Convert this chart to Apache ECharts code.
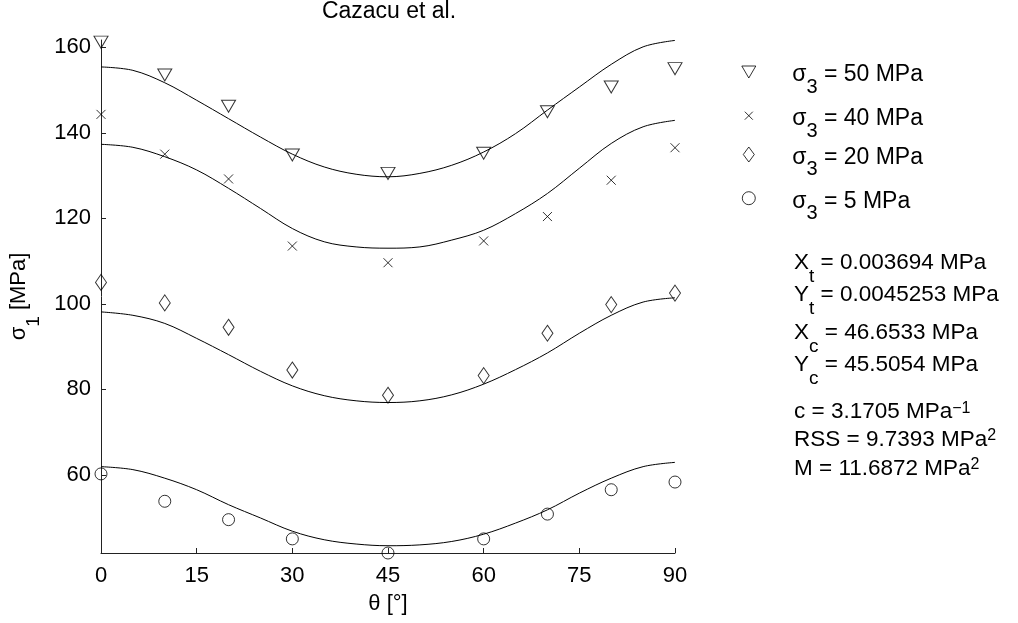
<!DOCTYPE html>
<html>
<head>
<meta charset="utf-8">
<script src="https://cdn.jsdelivr.net/npm/echarts@6/dist/echarts.min.js"></script>
<style>
  html, body { margin: 0; padding: 0; background: #fff; }
  #chart { width: 1018px; height: 623px; }
</style>
</head>
<body>
<div id="chart"></div>
<script>
// Measured orientations (degrees) and peak stresses sigma_1 (MPa)
const theta = [0, 10, 20, 30, 45, 60, 70, 80, 90];
const sigma3Levels = [50, 40, 20, 5];
const s50 = [161.2, 153.5, 146.2, 134.8, 130.5, 135.2, 144.9, 150.7, 155.0];
const s40 = [144.3, 135.0, 129.2, 113.5, 109.6, 114.7, 120.4, 128.9, 136.5];
const s20 = [105.0, 100.2, 94.5, 84.5, 78.6, 83.2, 93.1, 99.8, 102.5];
const s5  = [60.2, 53.8, 49.5, 45.0, 41.7, 45.0, 50.8, 56.5, 58.3];

// Fitted Cazacu criterion curves, sampled every 5 degrees
const thetaFit = [0, 5, 10, 15, 20, 25, 30, 35, 40, 45, 50, 55, 60, 65, 70, 75, 80, 85, 90];
const fit50 = [155.4, 154.6, 151.7, 147.6, 143.3, 139.0, 135.0, 132.0, 130.3, 129.7, 130.5, 132.4, 135.5, 139.8, 145.3, 150.7, 156.0, 160.1, 161.6];
const fit40 = [137.3, 136.6, 134.4, 131.3, 127.0, 122.3, 117.6, 114.5, 113.3, 113.0, 113.3, 114.9, 117.2, 121.1, 125.8, 131.7, 137.5, 141.4, 142.9];
const fit20 = [98.1, 97.3, 95.4, 91.9, 88.1, 84.2, 80.8, 78.5, 77.3, 76.9, 77.3, 78.7, 81.2, 84.6, 88.5, 93.1, 97.3, 100.4, 101.4];
const fit5  = [61.9, 61.2, 59.2, 56.5, 53.0, 49.9, 46.8, 44.8, 43.8, 43.4, 43.6, 44.4, 46.1, 48.7, 51.8, 55.7, 59.2, 61.9, 62.9];

// Axis ticks
const yTicks = [60, 80, 100, 120, 140, 160];
const xTickStep = 15;

// Fitted parameters shown beside the plot
const fitNotes = [
  '{s|X}{sub|t}{s| = 0.003694 MPa}',
  '{s|Y}{sub|t}{s| = 0.0045253 MPa}',
  '{s|X}{sub|c}{s| = 46.6533 MPa}',
  '{s|Y}{sub|c}{s| = 45.5054 MPa}',
  '{s|c = 3.1705 MPa}{sup|\u22121}',
  '{s|RSS = 9.7393 MPa}{sup|2}',
  '{s|M = 11.6872 MPa}{sup|2}'
];

const FONT = "'Liberation Sans', Arial, Helvetica, sans-serif";
const FS = 22;       // tick labels, axis names
const FS_NOTE = 22.5; // parameter block
const FS_KEY = 23;    // legend and title

const pairs = (xs, ys) => xs.map((x, i) => [x, ys[i]]);
const seriesName = v => 'σ3 = ' + v + ' MPa';

function richFor(size) {
  return {
    s:   { fontFamily: FONT, fontSize: size, lineHeight: 24, color: '#000', verticalAlign: 'top' },
    sub: { fontFamily: FONT, fontSize: 19, lineHeight: 19, color: '#000', verticalAlign: 'top', padding: [16, 0, 0, 0] },
    sup: { fontFamily: FONT, fontSize: 16, lineHeight: 7, color: '#000', verticalAlign: 'top' }
  };
}

const markerStyle = { color: 'rgba(0,0,0,0)', borderColor: '#000', borderWidth: 1 };
const triDown = 'path://M0,0L14,0L7,12Z';
const cross = 'path://M0,0L10,10M10,0L0,10';

const scatterDefs = [
  { data: s50, symbol: triDown, size: [14, 12], legend: { w: 14, h: 12, cy: 66.0 } },
  { data: s40, symbol: cross,   size: [9, 9],   legend: { w: 8,  h: 8,  cy: 107.7 } },
  { data: s20, symbol: 'diamond', size: [11, 16], legend: { w: 11, h: 15, cy: 150.0 } },
  { data: s5,  symbol: 'circle',  size: [12, 12], legend: { w: 13, h: 13, cy: 192.7 } }
];
const fits = [fit50, fit40, fit20, fit5];

const series = [];
fits.forEach((f, i) => {
  series.push({
    name: 'fit' + sigma3Levels[i],
    type: 'line',
    data: pairs(thetaFit, f),
    smooth: 0.35,
    showSymbol: false,
    symbol: 'none',
    lineStyle: { color: '#000', width: 1 },
    silent: true,
    z: 2
  });
});
scatterDefs.forEach((d, i) => {
  series.push({
    name: seriesName(sigma3Levels[i]),
    type: 'scatter',
    data: pairs(theta, d.data),
    symbol: d.symbol,
    symbolSize: d.size,
    itemStyle: markerStyle,
    z: 3
  });
});

const legendIconX = 748.3;
const legendTextX = 791.7;
const legends = scatterDefs.map((d, i) => {
  const L = d.legend;
  const pad = legendTextX - (legendIconX - L.w / 2 + L.w + 5);
  return {
    data: [seriesName(sigma3Levels[i])],
    orient: 'vertical',
    left: legendIconX - L.w / 2,
    top: L.cy - L.h / 2,
    itemWidth: L.w,
    itemHeight: L.h,
    padding: 0,
    selectedMode: false,
    itemStyle: { color: 'rgba(0,0,0,0)', borderColor: '#000', borderWidth: 1 },
    formatter: () => '{p| }{s|σ}{sub|3}{s| = ' + sigma3Levels[i] + ' MPa}',
    textStyle: {
      rich: {
        p:   { width: pad, fontSize: FS_KEY, lineHeight: 24 },
        s:   { fontFamily: FONT, fontSize: FS_KEY, lineHeight: 24, color: '#000', verticalAlign: 'top', padding: [3.5, 0, 0, 0] },
        sub: { fontFamily: FONT, fontSize: 20, lineHeight: 19, color: '#000', verticalAlign: 'top', padding: [17.4, 0, 0, 0] }
      }
    }
  };
});

const noteCenters = [263.3, 295, 333.3, 365, 412.2, 440, 469];
const graphics = fitNotes.map((t, i) => ({
  type: 'text',
  x: 794,
  y: noteCenters[i] - 12,
  silent: true,
  style: { text: t, rich: richFor(FS_NOTE), align: 'left', verticalAlign: 'top', fill: '#000', font: FS_NOTE + 'px ' + FONT }
}));

const chart = echarts.init(document.getElementById('chart'), null, { renderer: 'canvas' });
chart.setOption({
  animation: false,
  backgroundColor: '#fff',
  textStyle: { fontFamily: FONT },
  title: {
    text: 'Cazacu et al.',
    left: 389,
    top: 0,
    padding: 0,
    textAlign: 'center',
    textStyle: { fontFamily: FONT, fontSize: FS_KEY, fontWeight: 'normal', color: '#000', lineHeight: 24 }
  },
  grid: { left: 101, right: 343, top: 40, bottom: 70, containLabel: false },
  xAxis: {
    type: 'value',
    min: 0,
    max: 90,
    interval: xTickStep,
    name: 'θ [°]',
    nameLocation: 'middle',
    nameGap: 37,
    nameTextStyle: { fontFamily: FONT, fontSize: FS, color: '#000', lineHeight: 24 },
    axisLine: { lineStyle: { color: '#222', width: 1 } },
    axisTick: { inside: true, length: 5, lineStyle: { color: '#222' } },
    axisLabel: { fontFamily: FONT, fontSize: FS, color: '#000', margin: 12 },
    splitLine: { show: false }
  },
  yAxis: {
    type: 'value',
    min: 41.7,
    max: 161.7,
    name: '{s|σ}{sub|1}{s| [MPa]}',
    nameLocation: 'middle',
    nameGap: 61,
    nameTextStyle: { rich: richFor(FS) },
    axisLine: { show: true, lineStyle: { color: '#222', width: 1 } },
    axisTick: { show: true, inside: true, length: 5, customValues: yTicks, lineStyle: { color: '#222' } },
    axisLabel: { fontFamily: FONT, fontSize: FS, color: '#000', margin: 10, customValues: yTicks },
    splitLine: { show: false }
  },
  legend: legends,
  graphic: graphics,
  series: series
});
</script>
</body>
</html>
